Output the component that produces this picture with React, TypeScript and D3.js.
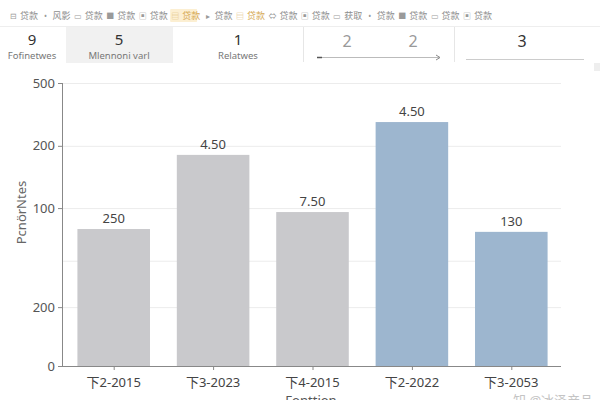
import * as d3 from "d3";

// toolbar
const toolIcons = ["⊟", "•", "▭", "■", "▣", "▤", "▸", "▤", "⇔", "▣", "▭", "•", "■", "▭", "▣"];
const toolLabels = ["贷款", "风影", "贷款", "贷款", "贷款", "贷款", "贷款", "贷款", "贷款", "贷款", "获取", "贷款", "贷款", "贷款", "贷款"];

// summary cards
const cardValues = ["9", "5", "1"];
const cardLabels = ["Fofinetwes", "Mlennoni varl", "Relatwes"];
const rangeValues = ["2", "2"];
const lastValue = "3";

// bars
const categories = ["下2-2015", "下3-2023", "下4-2015", "下2-2022", "下3-2053"];
const values = [242, 373, 272, 431, 237];
const valueLabels = ["250", "4.50", "7.50", "4.50", "130"];
const highlighted = [false, false, false, true, true];

// y axis
const yTickValues = [0, 104, 186, 279, 389, 500];
const yTickLabels = ["0", "200", "", "100", "200", "500"];

const W = 600;
const H = 400;
const margin = { top: 83, right: 39, bottom: 34, left: 62 };
const font = "'Noto Sans', 'Noto Sans CJK SC', sans-serif";

export default function App() {
  const x = d3
    .scaleBand<string>()
    .domain(categories)
    .range([margin.left + 2, W - margin.right])
    .paddingInner(0.27)
    .paddingOuter(0.135);
  const y = d3
    .scaleLinear()
    .domain([0, 500])
    .range([H - margin.bottom, margin.top]);
  const tool = d3
    .scalePoint<number>()
    .domain(d3.range(toolIcons.length))
    .range([13, 467]);

  const x0 = margin.left;
  const x1 = W - margin.right;
  const yBase = y(0);

  return (
    <>
      <style>{`body{margin:0}`}</style>
      <svg width={W} height={H} style={{ display: "block", fontFamily: font }}>
        <rect width={W} height={H} fill="#fff" />

        {/* toolbar */}
        <line x1={0} x2={W} y1={26.5} y2={26.5} stroke="#eee" />
        {toolIcons.map((ic, i) => {
          const px = tool(i)!;
          const hl = i === 5;
          const warm = i === 5 || i === 7;
          return (
            <g key={i}>
              {hl && <rect x={px - 5} y={9} width={27} height={13} fill="#fcefd2" rx={1} />}
              <text x={px} y={18.5} fontSize={8} textAnchor="middle" fill={warm ? "#e2be7c" : "#9a9a9a"}>
                {ic}
              </text>
              <text x={px + 7} y={19} fontSize={9} fill={warm ? "#d6aa55" : "#8e8e8e"}>
                {toolLabels[i]}
              </text>
            </g>
          );
        })}

        {/* summary cards */}
        <rect x={66} y={27} width={107} height={36} fill="#f1f1f1" />
        {cardValues.map((v, i) => {
          const cx = [32, 119, 238][i];
          return (
            <g key={i}>
              <text x={cx} y={44.5} fontSize={15} textAnchor="middle" fill="#333">
                {v}
              </text>
              <text x={cx} y={59} fontSize={9.5} textAnchor="middle" fill="#777">
                {cardLabels[i]}
              </text>
            </g>
          );
        })}
        <line x1={303.5} x2={303.5} y1={27} y2={62} stroke="#e6e6e6" />
        <line x1={454.5} x2={454.5} y1={27} y2={62} stroke="#e6e6e6" />
        {rangeValues.map((v, i) => (
          <text key={i} x={[347, 413][i]} y={47} fontSize={16} textAnchor="middle" fill="#999">
            {v}
          </text>
        ))}
        <line x1={317} x2={322} y1={57.5} y2={57.5} stroke="#555" strokeWidth={1.5} />
        <line x1={322} x2={439} y1={57.5} y2={57.5} stroke="#bbb" />
        <path d="M436,55 L440,57.5 L436,60" fill="none" stroke="#888" />
        <text x={522} y={47} fontSize={16} textAnchor="middle" fill="#333">
          {lastValue}
        </text>
        <line x1={466} x2={584} y1={59.5} y2={59.5} stroke="#ccc" />
        <rect x={594} y={63} width={6} height={8} fill="#eee" />

        {/* gridlines */}
        {yTickValues.map((t, i) => (
          <line key={i} x1={x0} x2={x1} y1={y(t) + 0.5} y2={y(t) + 0.5} stroke="#ececec" />
        ))}

        {/* bars */}
        {categories.map((c, i) => (
          <g key={c}>
            <rect
              x={x(c)}
              y={y(values[i])}
              width={x.bandwidth()}
              height={yBase - y(values[i])}
              fill={highlighted[i] ? "#9db6cf" : "#c9c9cc"}
            />
            <text
              x={x(c)! + x.bandwidth() / 2}
              y={y(values[i]) - 6}
              fontSize={13}
              textAnchor="middle"
              fill="#444"
            >
              {valueLabels[i]}
            </text>
          </g>
        ))}

        {/* y axis */}
        <line x1={x0 + 0.5} x2={x0 + 0.5} y1={margin.top} y2={yBase} stroke="#888" />
        {yTickValues.map((t, i) =>
          yTickLabels[i] ? (
            <g key={i} transform={`translate(${x0},${y(t)})`}>
              <line x1={-4} x2={0} y1={0.5} y2={0.5} stroke="#888" />
              <text x={-7} dy="0.35em" fontSize={13} textAnchor="end" fill="#555">
                {yTickLabels[i]}
              </text>
            </g>
          ) : null
        )}
        <text
          transform={`translate(26,${(margin.top + yBase) / 2 - 12}) rotate(-90)`}
          fontSize={13}
          textAnchor="middle"
          fill="#666"
        >
          PcnörNtes
        </text>

        {/* x axis */}
        <line x1={x0} x2={x1} y1={yBase + 0.5} y2={yBase + 0.5} stroke="#888" />
        {categories.map((c) => {
          const cx = x(c)! + x.bandwidth() / 2;
          return (
            <g key={c} transform={`translate(${cx},${yBase})`}>
              <line x1={0.5} x2={0.5} y1={0} y2={4} stroke="#888" />
              <text y={21} fontSize={13} textAnchor="middle" fill="#444">
                {c}
              </text>
            </g>
          );
        })}
        <text x={311} y={405} fontSize={13} textAnchor="middle" fill="#555">
          Fonttion
        </text>
        <text x={513} y={405} fontSize={13} fill="#c4c4c4">
          知 @冰泽产品
        </text>
      </svg>
    </>
  );
}
